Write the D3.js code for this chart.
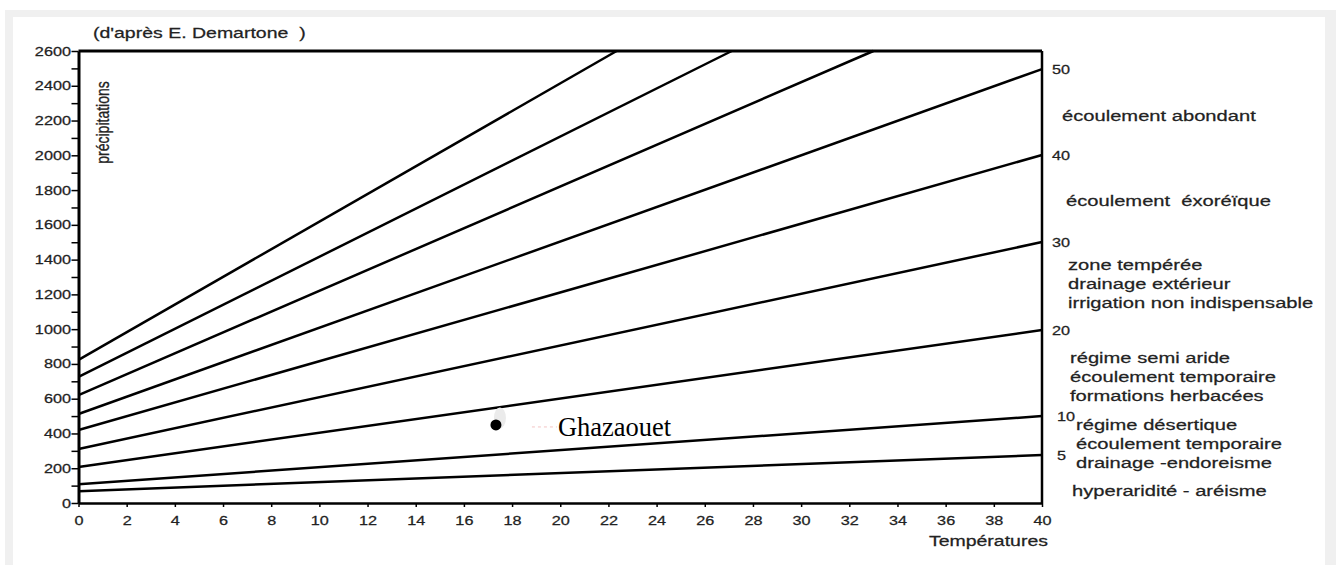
<!DOCTYPE html>
<html>
<head>
<meta charset="utf-8">
<script src="https://cdn.jsdelivr.net/npm/d3@7/dist/d3.min.js"></script>
<style>
    body { margin: 0; background: #fff; }
    svg text { font-family: "Liberation Sans", Arial, sans-serif; fill: #222; stroke: #222; stroke-width: 0.25px; white-space: pre; }
    svg text.serif { font-family: "Liberation Serif", "Times New Roman", serif; fill: #000; stroke: none; }
</style>
</head>
<body>
<div id="chart"></div>
<script>
// index lines (De Martonne)
const indexValues = [5, 10, 20, 30, 40, 50, 60, 70, 80];
const startPrecip = [68, 108, 207, 311, 420, 512, 621, 725, 823];
const endTemp = [40, 40, 40, 40, 40, 40, 33.0, 27.12, 22.34];
const endPrecip = [276, 500, 995, 1501, 2002, 2496, 2600, 2600, 2600];

const tempTicks = [0, 2, 4, 6, 8, 10, 12, 14, 16, 18, 20, 22, 24, 26, 28, 30, 32, 34, 36, 38, 40];
const precipTicks = [0, 100, 200, 300, 400, 500, 600, 700, 800, 900, 1000, 1100, 1200, 1300,
    1400, 1500, 1600, 1700, 1800, 1900, 2000, 2100, 2200, 2300, 2400, 2500, 2600];

const stationNames = ["Ghazaouet"];
const stationTemp = [17.33];
const stationPrecip = [449];

const zoneLabels = [
    ["écoulement abondant"],
    ["écoulement  éxoréïque"],
    ["zone tempérée", "drainage extérieur", "irrigation non indispensable"],
    ["régime semi aride", "écoulement temporaire", "formations herbacées"],
    ["régime désertique", "écoulement temporaire", "drainage -endoreisme"],
    ["hyperaridité - aréisme"]
];

class DeMartonneChart {
    constructor(_element) {
        this.element = _element;
        this.initVis();
    }
    initVis() {
        var vis = this;
        vis.width = 1336;
        vis.height = 565;
        vis.sx = 1.3; // the scanned figure is stretched sideways

        vis.svg = d3.select(vis.element)
            .append("svg")
            .attr("width", vis.width)
            .attr("height", vis.height);

        // grey page frame
        vis.svg.append("rect")
            .attr("x", 5).attr("y", 10)
            .attr("width", 1331).attr("height", 555)
            .attr("fill", "#f0f0f0");
        vis.svg.append("rect")
            .attr("x", 13).attr("y", 17)
            .attr("width", 1312).attr("height", 548)
            .attr("fill", "#fff");

        vis.x = d3.scaleLinear().domain([0, 40]).range([78.5, 1042]);
        vis.y = d3.scaleLinear().domain([0, 2600]).range([503, 51]);

        vis.text = function (x, y, str, size, anchor) {
            return vis.svg.append("text")
                .attr("transform", "translate(" + x + "," + y + ") scale(" + vis.sx + ",1)")
                .attr("text-anchor", anchor || "start")
                .attr("dominant-baseline", "central")
                .attr("font-size", size + "px")
                .text(str);
        };

        vis.drawAxes();
        vis.drawLines();
        vis.drawLabels();
        vis.drawStation();
    }
    drawAxes() {
        var vis = this;
        var sx = vis.sx;

        var xAxis = vis.svg.append("g")
            .attr("transform", "translate(0," + vis.y(0) + ")")
            .call(d3.axisBottom(vis.x).tickValues(tempTicks).tickSize(4).tickSizeOuter(0));
        xAxis.select(".domain").attr("stroke", "#000").attr("stroke-width", 2.5);
        xAxis.selectAll(".tick line").attr("stroke", "#000").attr("stroke-width", 1.5);
        xAxis.selectAll(".tick text")
            .attr("y", 13.5)
            .attr("transform", "scale(" + sx + ",1)")
            .attr("font-size", "12.5px");

        var yAxis = vis.svg.append("g")
            .attr("transform", "translate(" + vis.x(0) + ",0)")
            .call(d3.axisLeft(vis.y).tickValues(precipTicks).tickSize(7).tickSizeOuter(0)
                .tickFormat(d => d % 200 === 0 ? d : ""));
        yAxis.select(".domain").attr("stroke", "#000").attr("stroke-width", 3);
        yAxis.selectAll(".tick line").attr("stroke", "#000").attr("stroke-width", 1.5);
        yAxis.selectAll(".tick text")
            .attr("x", -7.5 / sx)
            .attr("transform", "scale(" + sx + ",1)")
            .attr("font-size", "12.5px");

        // box: top and right side
        vis.svg.append("path")
            .attr("d", "M" + vis.x(0) + "," + vis.y(2600) + "H" + vis.x(40))
            .attr("stroke", "#000").attr("stroke-width", 3).attr("fill", "none");
        vis.svg.append("path")
            .attr("d", "M" + vis.x(40) + "," + vis.y(2600) + "V" + vis.y(0))
            .attr("stroke", "#000").attr("stroke-width", 2.5).attr("fill", "none");
    }
    drawLines() {
        var vis = this;
        var lineData = indexValues.map((d, i) => ({
            index: d,
            pts: [[0, startPrecip[i]], [endTemp[i], endPrecip[i]]]
        }));
        var line = d3.line()
            .x(d => vis.x(d[0]))
            .y(d => vis.y(d[1]));
        vis.svg.append("g").selectAll("path")
            .data(lineData)
            .enter()
            .append("path")
            .attr("d", d => line(d.pts))
            .attr("fill", "none")
            .attr("stroke", "#000")
            .attr("stroke-width", 2.5);

        // index numbers at the right end of the full lines
        lineData.filter(d => d.pts[1][0] === 40).forEach(d => {
            vis.text(vis.x(40) + (d.index <= 10 ? 15 : 10), vis.y(d.pts[1][1]) + 1, d.index, 12.5);
        });
    }
    drawLabels() {
        var vis = this;
        vis.text(93, 33, "(d'après E. Demartone  )", 15);
        vis.text(1048, 541, "Températures", 15, "end");

        vis.svg.append("text")
            .attr("transform", "translate(102,122.5) rotate(-90) scale(1,1.3)")
            .attr("text-anchor", "middle")
            .attr("dominant-baseline", "central")
            .attr("font-size", "14px")
            .text("précipitations");

        var zonePos = [[1062, 116], [1066, 201], [1068, 265], [1070, 358], [1076, 425], [1072, 491]];
        zoneLabels.forEach((lines, i) => {
            lines.forEach((str, j) => {
                vis.text(zonePos[i][0], zonePos[i][1] + j * 18.8, str, 15.5);
            });
        });
    }
    drawStation() {
        var vis = this;
        stationNames.forEach((name, i) => {
            var cx = vis.x(stationTemp[i]);
            var cy = vis.y(stationPrecip[i]);
            vis.svg.append("ellipse")
                .attr("cx", cx + 4).attr("cy", cy - 7)
                .attr("rx", 6).attr("ry", 10.5)
                .attr("fill", "#ebebeb");
            vis.svg.append("circle")
                .attr("cx", cx).attr("cy", cy)
                .attr("r", 5.5)
                .attr("fill", "#000");
            vis.svg.append("line")
                .attr("x1", cx + 36).attr("x2", cx + 61)
                .attr("y1", cy + 2).attr("y2", cy + 2)
                .attr("stroke", "#f3c4c4")
                .attr("stroke-width", 1)
                .attr("stroke-dasharray", "3,3");
            vis.svg.append("text")
                .attr("class", "serif")
                .attr("x", cx + 62)
                .attr("y", cy + 11)
                .attr("font-size", "26.5px")
                .text(name);
        });
    }
}

new DeMartonneChart("#chart");
</script>
</body>
</html>
